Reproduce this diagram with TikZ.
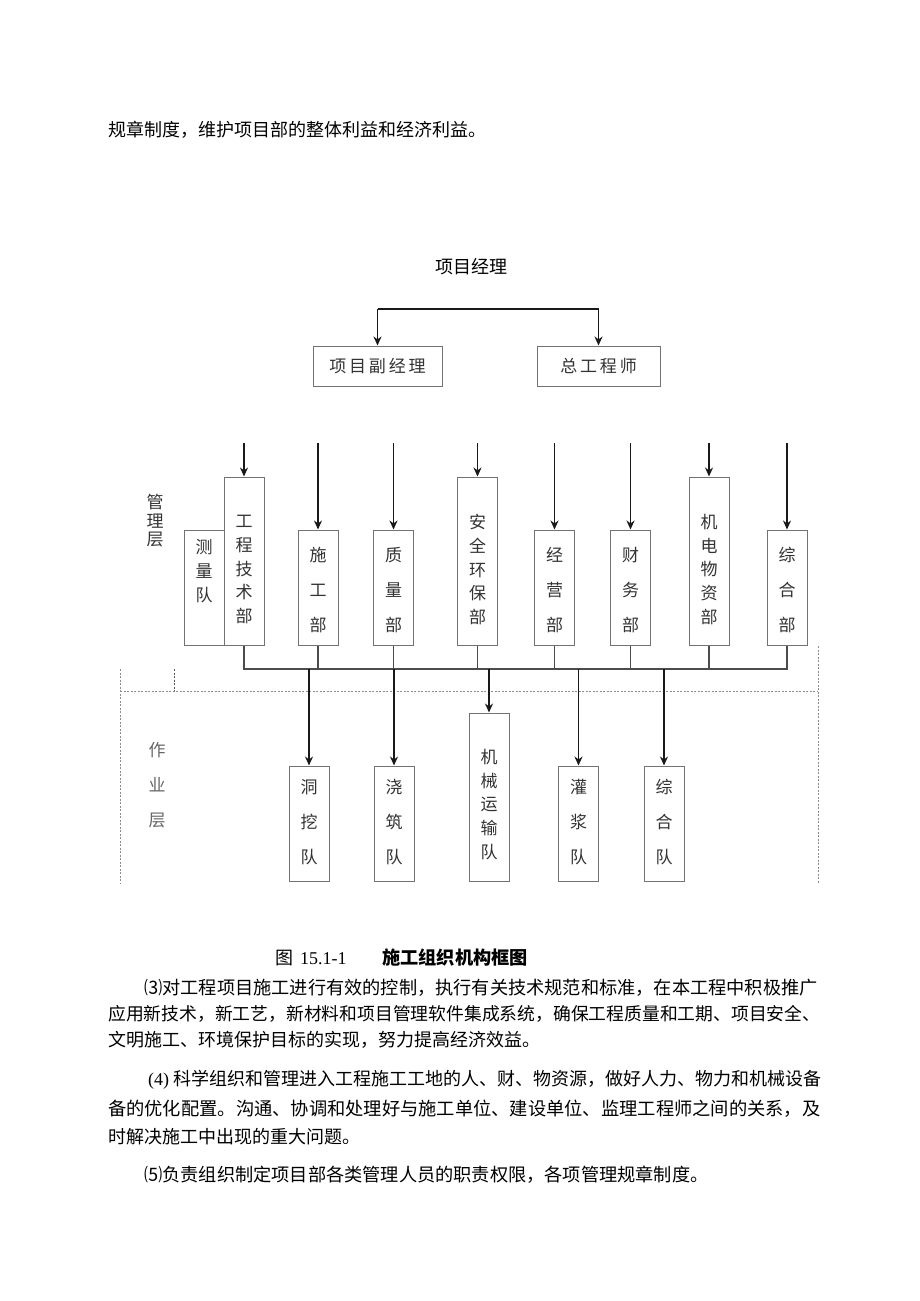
\documentclass[tikz,border=0pt]{standalone}
\usepackage{fontspec}
\setmainfont{Noto Sans CJK SC}
\newfontfamily\lat{Liberation Serif}
\usetikzlibrary{arrows.meta}
\def\fsz#1#2{\fontsize{#1}{#2}\selectfont}
\tikzset{
	para/.style={anchor=west, inner sep=0pt, font=\fsz{18}{18}},
	deptbox/.style={draw=black!55, line width=1pt, inner sep=0pt, minimum width=40pt},
	shortbox/.style={deptbox, minimum height=115pt},
	tallbox/.style={deptbox, minimum height=168pt},
	vlab/.style={align=center, inner sep=0pt, text=black!80},
	tightlab/.style={vlab, font=\fsz{17}{23.75}},
	looselab/.style={vlab, font=\fsz{17}{35}},
	arr/.style={-{Stealth[length=9pt,width=8pt]}, line width=1.5pt, black!90},
	bus/.style={line width=1.1pt, black!70},
	zone/.style={black!45, line width=0.8pt, dash pattern=on 2pt off 1.5pt}
}

\begin{document}
\begin{tikzpicture}[x=1pt, y=-1pt]
	%%%%% START %%%%%
	\fill[white] (0,0) rectangle (920,1301);
	\useasboundingbox (0,0) rectangle (920,1301);
	
	\node[para] (prev) at (108,130) {规章制度，维护项目部的整体利益和经济利益。};
	
	%% top of the chart
	\node[inner sep=0pt, font=\fsz{18}{18}] (pm) at (471,267) {项目经理};
	\node[deptbox, minimum width=129pt, minimum height=40pt, font=\fsz{17}{17}, text=black!80] (fjl) at (377.5,366) {项\,目\,副\,经\,理};
	\node[deptbox, minimum width=123pt, minimum height=40pt, font=\fsz{17}{17}, text=black!80] (zgcs) at (598.5,366) {总\,工\,程\,师};
	
	\coordinate (pmbar) at (0,309);
	\draw[arr] (fjl.north |- pmbar) -- (zgcs.north |- pmbar) -- (zgcs.north);
	\draw[arr] (fjl.north |- pmbar) -- (fjl.north);
	
	%% management level
	\node[tightlab, font=\fsz{17}{18.5}] (glc) at (155,521) {管\\理\\层};
	
	\node[shortbox] (cld) at (204,587.5) {};
	\node[tallbox] (gcjs) at (244,561) {};
	\node[shortbox] (sgb) at (318,587.5) {};
	\node[shortbox] (zlb) at (393.5,587.5) {};
	\node[tallbox] (aqhb) at (477.5,561) {};
	\node[shortbox] (jyb) at (554.5,587.5) {};
	\node[shortbox] (cwb) at (630.5,587.5) {};
	\node[tallbox] (jdwz) at (709,561) {};
	\node[shortbox] (zhb) at (787,587.5) {};
	
	\node[tightlab] (t-cld) at (204,571) {测\\量\\队};
	\node[tightlab] (t-gcjs) at (244,569.5) {工\\程\\技\\术\\部};
	\node[looselab] (t-sgb) at (318,590) {施\\工\\部};
	\node[looselab] (t-zlb) at (393.5,590) {质\\量\\部};
	\node[tightlab] (t-aqhb) at (477.5,569.5) {安\\全\\环\\保\\部};
	\node[looselab] (t-jyb) at (554.5,590) {经\\营\\部};
	\node[looselab] (t-cwb) at (630.5,590) {财\\务\\部};
	\node[tightlab] (t-jdwz) at (709,569.5) {机\\电\\物\\资\\部};
	\node[looselab] (t-zhb) at (787,590) {综\\合\\部};
	
	\coordinate (mgtop) at (0,443);
	\draw[arr] (gcjs.north |- mgtop) -- (gcjs.north);
	\draw[arr] (sgb.north |- mgtop) -- (sgb.north);
	\draw[arr] (zlb.north |- mgtop) -- (zlb.north);
	\draw[arr] (aqhb.north |- mgtop) -- (aqhb.north);
	\draw[arr] (jyb.north |- mgtop) -- (jyb.north);
	\draw[arr] (cwb.north |- mgtop) -- (cwb.north);
	\draw[arr] (jdwz.north |- mgtop) -- (jdwz.north);
	\draw[arr] (zhb.north |- mgtop) -- (zhb.north);
	
	\coordinate (bus) at (0,669);
	\draw[bus] (gcjs.south) -- (gcjs.south |- bus) -- (zhb.south |- bus) -- (zhb.south);
	\draw[bus] (sgb.south) -- (sgb.south |- bus);
	\draw[bus] (zlb.south) -- (zlb.south |- bus);
	\draw[bus] (aqhb.south) -- (aqhb.south |- bus);
	\draw[bus] (jyb.south) -- (jyb.south |- bus);
	\draw[bus] (cwb.south) -- (cwb.south |- bus);
	\draw[bus] (jdwz.south) -- (jdwz.south |- bus);
	
	%% dashed frame between the two levels
	\draw[zone] (120,669) -- (120,883);
	\draw[zone, black!65, line width=1pt] (174,669) -- (174,691);
	\draw[zone] (120,691) -- (818,691);
	\draw[zone] (818,646) -- (818,883);
	
	%% working level
	\node[looselab, text=black!60] (zyc) at (157,785) {作\\业\\层};
	
	\node[shortbox] (dwd) at (309,823.5) {};
	\node[shortbox] (jzd) at (394,823.5) {};
	\node[tallbox] (jxys) at (489,797) {};
	\node[shortbox] (gjd) at (578.5,823.5) {};
	\node[shortbox] (zhd) at (664,823.5) {};
	
	\node[looselab] (t-dwd) at (309,822.5) {洞\\挖\\队};
	\node[looselab] (t-jzd) at (394,822.5) {浇\\筑\\队};
	\node[tightlab] (t-jxys) at (489,804.5) {机\\械\\运\\输\\队};
	\node[looselab] (t-gjd) at (578.5,822.5) {灌\\浆\\队};
	\node[looselab] (t-zhd) at (664,822.5) {综\\合\\队};
	
	\draw[arr] (dwd.north |- bus) -- (dwd.north);
	\draw[arr] (jzd.north |- bus) -- (jzd.north);
	\draw[arr] (jxys.north |- bus) -- (jxys.north);
	\draw[arr] (gjd.north |- bus) -- (gjd.north);
	\draw[arr] (zhd.north |- bus) -- (zhd.north);
	
	%% caption and following text
	\node[para] (cap-num) at (275,958) {图\hspace{7pt}{\lat 15.1-1}};
	\node[para, font=\fsz{18.2}{18}\bfseries] (cap-title) at (382,958) {施工组织机构框图};
	
	\node[para, font=\fsz{18.2}{18}] (p3a) at (144,988) {⑶对工程项目施工进行有效的控制，执行有关技术规范和标准，在本工程中积极推广};
	\node[para, font=\fsz{17.8}{18}] (p3b) at (108,1014) {应用新技术，新工艺，新材料和项目管理软件集成系统，确保工程质量和工期、项目安全、};
	\node[para] (p3c) at (108,1040) {文明施工、环境保护目标的实现，努力提高经济效益。};
	\node[para] (p4a) at (148,1080) {{\lat (4)} 科学组织和管理进入工程施工工地的人、财、物资源，做好人力、物力和机械设备};
	\node[para, font=\fsz{18.26}{18}] (p4b) at (108,1109) {备的优化配置。沟通、协调和处理好与施工单位、建设单位、监理工程师之间的关系，及};
	\node[para] (p4c) at (108,1137) {时解决施工中出现的重大问题。};
	\node[para, font=\fsz{18.2}{18}] (p5) at (144,1175) {⑸负责组织制定项目部各类管理人员的职责权限，各项管理规章制度。};
	
	%%%%% END %%%%%
\end{tikzpicture}
\end{document}
